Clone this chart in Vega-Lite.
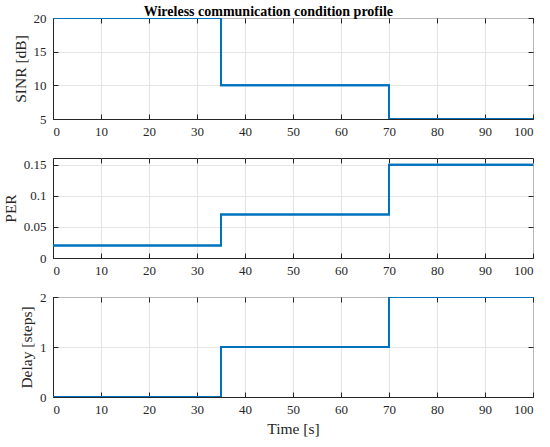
{
  "$schema": "https://vega.github.io/schema/vega-lite/v6.json",
  "autosize": {"type": "pad"},
  "padding": {"left": 2, "top": 4, "right": 10, "bottom": 2},
  "background": "white",
  "bounds": "flush",
  "spacing": 39,
  "title": {"text": "Wireless communication condition profile", "font": "Liberation Serif", "fontSize": 14, "fontWeight": "bold", "color": "black", "anchor": "middle", "offset": -7},
  "datasets": {
    "profile": [
      {"t": 0, "sinr": 20, "per": 0.02, "delay": 0},
      {"t": 35, "sinr": 10, "per": 0.07, "delay": 1},
      {"t": 70, "sinr": 5, "per": 0.15, "delay": 2},
      {"t": 100, "sinr": 5, "per": 0.15, "delay": 2}
    ]
  },
  "config": {
    "view": {"stroke": "#262626", "strokeWidth": 1},
    "axis": {"labelFont": "Liberation Serif", "labelFontSize": 13, "labelColor": "#262626", "titleFont": "Liberation Serif", "titleFontSize": 15.5, "titleFontWeight": "normal", "titleColor": "#262626", "domainColor": "#262626", "tickColor": "#262626", "tickSize": -5, "gridColor": "#dedede", "gridWidth": 0.8},
    "axisX": {"labelPadding": 11, "format": "d", "labelFont": "Liberation Serif"},
    "axisY": {"labelPadding": 12, "format": "~r", "labelFont": "Liberation Serif"},
    "axisTop": {"labelPadding": 0, "minExtent": 0, "maxExtent": 0},
    "axisRight": {"labelPadding": 0, "minExtent": 0, "maxExtent": 0}
  },
  "vconcat": [
    {
      "width": 480, "height": 101,
      "data": {"name": "profile"},
      "resolve": {"axis": {"x": "independent", "y": "independent"}},
      "layer": [
        {
          "mark": {"type": "line", "interpolate": "step-after", "color": "#0072BD", "strokeWidth": 2, "clip": true},
          "encoding": {
            "x": {"field": "t", "type": "quantitative", "scale": {"domain": [0, 100], "nice": false}, "axis": {"title": null, "values": [0,10,20,30,40,50,60,70,80,90,100], "orient": "bottom"}},
            "y": {"field": "sinr", "type": "quantitative", "scale": {"domain": [5, 20], "nice": false, "zero": false}, "axis": {"title": "SINR [dB]", "values": [5,10,15,20], "orient": "left", "titlePadding": 5}}
          }
        },
        {
          "mark": {"type": "line", "interpolate": "step-after", "color": "#0072BD", "strokeWidth": 2, "clip": true},
          "encoding": {
            "x": {"field": "t", "type": "quantitative", "axis": {"title": null, "values": [0,10,20,30,40,50,60,70,80,90,100], "orient": "top", "labels": false, "grid": false, "domain": false}},
            "y": {"field": "sinr", "type": "quantitative", "axis": {"title": null, "values": [5,10,15,20], "orient": "right", "labels": false, "grid": false, "domain": false}}
          }
        }
      ]
    },
    {
      "width": 480, "height": 100,
      "data": {"name": "profile"},
      "resolve": {"axis": {"x": "independent", "y": "independent"}},
      "layer": [
        {
          "mark": {"type": "line", "interpolate": "step-after", "color": "#0072BD", "strokeWidth": 2, "clip": true},
          "encoding": {
            "x": {"field": "t", "type": "quantitative", "scale": {"domain": [0, 100], "nice": false}, "axis": {"title": null, "values": [0,10,20,30,40,50,60,70,80,90,100], "orient": "bottom"}},
            "y": {"field": "per", "type": "quantitative", "scale": {"domain": [0, 0.161], "nice": false}, "axis": {"title": "PER", "values": [0,0.05,0.1,0.15], "orient": "left", "titlePadding": 5}}
          }
        },
        {
          "mark": {"type": "line", "interpolate": "step-after", "color": "#0072BD", "strokeWidth": 2, "clip": true},
          "encoding": {
            "x": {"field": "t", "type": "quantitative", "axis": {"title": null, "values": [0,10,20,30,40,50,60,70,80,90,100], "orient": "top", "labels": false, "grid": false, "domain": false}},
            "y": {"field": "per", "type": "quantitative", "axis": {"title": null, "values": [0,0.05,0.1,0.15], "orient": "right", "labels": false, "grid": false, "domain": false}}
          }
        }
      ]
    },
    {
      "width": 480, "height": 100,
      "data": {"name": "profile"},
      "resolve": {"axis": {"x": "independent", "y": "independent"}},
      "layer": [
        {
          "mark": {"type": "line", "interpolate": "step-after", "color": "#0072BD", "strokeWidth": 2, "clip": true},
          "encoding": {
            "x": {"field": "t", "type": "quantitative", "scale": {"domain": [0, 100], "nice": false}, "axis": {"title": "Time [s]", "values": [0,10,20,30,40,50,60,70,80,90,100], "orient": "bottom", "titlePadding": 5}},
            "y": {"field": "delay", "type": "quantitative", "scale": {"domain": [0, 2], "nice": false}, "axis": {"title": "Delay [steps]", "values": [0,1,2], "orient": "left", "titlePadding": 5}}
          }
        },
        {
          "mark": {"type": "line", "interpolate": "step-after", "color": "#0072BD", "strokeWidth": 2, "clip": true},
          "encoding": {
            "x": {"field": "t", "type": "quantitative", "axis": {"title": null, "values": [0,10,20,30,40,50,60,70,80,90,100], "orient": "top", "labels": false, "grid": false, "domain": false}},
            "y": {"field": "delay", "type": "quantitative", "axis": {"title": null, "values": [0,1,2], "orient": "right", "labels": false, "grid": false, "domain": false}}
          }
        }
      ]
    }
  ]
}
